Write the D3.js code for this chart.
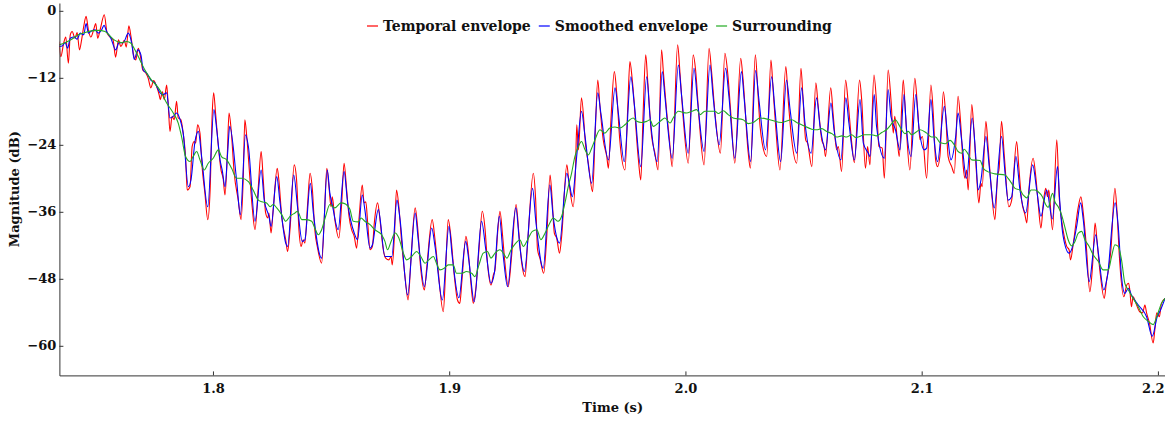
<!DOCTYPE html>
<html>
<head>
<meta charset="utf-8">
<script src="https://cdn.jsdelivr.net/npm/d3@7"></script>
<style>
  html, body { margin: 0; padding: 0; background: #fff; }
  svg { display: block; }
  text { font-family: "DejaVu Serif", serif; font-weight: bold; fill: #111; }
</style>
</head>
<body>
<svg id="chart" width="1165" height="421"></svg>
<script>
// Envelope traces, [time (s), magnitude (dB)]
const temporalEnvelope = [
[1.7348,-5.5],[1.7356,-8.2],[1.7368,-5.8],[1.7377,-4.7],[1.7388,-9.4],[1.7396,-4.3],[1.7404,-3.7],[1.7416,-4.9],[1.7425,-3.9],[1.7435,-7.0],[1.7444,-5.2],[1.7453,-2.8],[1.7463,-1.0],[1.7473,-3.5],[1.7483,-4.7],[1.7495,-3.4],[1.7504,-2.3],[1.7512,-4.9],[1.7523,-3.3],[1.7540,-0.7],[1.7552,-4.0],[1.7565,-4.7],[1.7577,-5.2],[1.7588,-8.3],[1.7600,-5.2],[1.7610,-6.4],[1.7625,-5.3],[1.7633,-6.5],[1.7644,-2.7],[1.7653,-4.6],[1.7664,-7.9],[1.7673,-8.8],[1.7684,-6.7],[1.7692,-7.9],[1.7703,-10.6],[1.7715,-11.1],[1.7726,-12.1],[1.7737,-13.8],[1.7749,-12.5],[1.7760,-13.4],[1.7772,-15.0],[1.7777,-15.9],[1.7786,-14.5],[1.7794,-15.9],[1.7804,-13.3],[1.7811,-17.1],[1.7818,-21.6],[1.7827,-18.9],[1.7836,-19.5],[1.7846,-16.2],[1.7853,-19.2],[1.7864,-19.5],[1.7874,-21.9],[1.7884,-26.1],[1.7891,-32.1],[1.7903,-31.5],[1.7912,-24.3],[1.7921,-23.4],[1.7927,-23.7],[1.7935,-20.4],[1.7945,-21.9],[1.7954,-27.9],[1.7966,-32.7],[1.7978,-37.4],[1.7988,-32.1],[1.7997,-18.3],[1.8003,-14.7],[1.8011,-18.3],[1.8023,-24.3],[1.8034,-28.5],[1.8043,-30.0],[1.8051,-33.0],[1.8061,-25.5],[1.8068,-18.3],[1.8077,-21.3],[1.8090,-29.1],[1.8107,-33.9],[1.8119,-37.4],[1.8128,-30.3],[1.8135,-19.5],[1.8143,-22.5],[1.8157,-30.3],[1.8166,-35.1],[1.8178,-39.2],[1.8192,-31.5],[1.8204,-25.2],[1.8213,-30.3],[1.8223,-36.2],[1.8232,-37.1],[1.8237,-36.2],[1.8246,-39.8],[1.8255,-35.6],[1.8272,-28.2],[1.8279,-30.3],[1.8291,-36.8],[1.8308,-41.0],[1.8316,-43.1],[1.8326,-39.2],[1.8344,-27.6],[1.8354,-30.3],[1.8364,-39.2],[1.8373,-42.2],[1.8382,-41.0],[1.8389,-41.6],[1.8401,-34.4],[1.8411,-29.1],[1.8421,-32.1],[1.8431,-39.2],[1.8443,-42.5],[1.8460,-45.2],[1.8471,-37.4],[1.8482,-28.2],[1.8491,-31.5],[1.8500,-35.1],[1.8505,-33.3],[1.8516,-37.4],[1.8533,-40.7],[1.8545,-34.4],[1.8555,-27.3],[1.8566,-32.1],[1.8576,-36.8],[1.8587,-39.2],[1.8598,-40.4],[1.8608,-42.5],[1.8618,-37.4],[1.8632,-31.2],[1.8640,-34.4],[1.8647,-34.2],[1.8655,-38.0],[1.8665,-42.8],[1.8675,-42.2],[1.8683,-38.0],[1.8697,-34.4],[1.8707,-37.4],[1.8721,-42.8],[1.8731,-44.3],[1.8745,-44.6],[1.8754,-44.0],[1.8759,-45.5],[1.8768,-40.4],[1.8777,-32.1],[1.8787,-35.1],[1.8799,-41.6],[1.8813,-47.6],[1.8826,-51.8],[1.8838,-44.6],[1.8856,-35.3],[1.8866,-38.6],[1.8880,-46.4],[1.8895,-50.0],[1.8904,-46.4],[1.8928,-37.4],[1.8940,-41.0],[1.8953,-46.4],[1.8975,-53.9],[1.8985,-46.4],[1.8996,-37.4],[1.9007,-40.4],[1.9022,-47.6],[1.9035,-51.8],[1.9045,-52.4],[1.9053,-48.8],[1.9071,-40.4],[1.9080,-42.8],[1.9092,-48.8],[1.9102,-52.4],[1.9112,-50.0],[1.9126,-42.8],[1.9140,-35.9],[1.9152,-39.2],[1.9162,-45.2],[1.9177,-49.1],[1.9187,-47.3],[1.9194,-46.4],[1.9205,-39.8],[1.9215,-35.9],[1.9225,-39.8],[1.9236,-45.2],[1.9250,-49.4],[1.9264,-44.0],[1.9283,-34.7],[1.9295,-39.8],[1.9307,-45.2],[1.9321,-47.6],[1.9332,-41.6],[1.9356,-29.1],[1.9366,-33.9],[1.9374,-42.8],[1.9384,-44.3],[1.9400,-47.0],[1.9413,-40.4],[1.9427,-29.4],[1.9436,-33.9],[1.9445,-39.8],[1.9455,-40.7],[1.9467,-43.4],[1.9476,-40.4],[1.9498,-27.6],[1.9506,-30.3],[1.9525,-35.1],[1.9535,-27.9],[1.9540,-20.4],[1.9547,-24.9],[1.9560,-15.6],[1.9578,-24.3],[1.9589,-27.3],[1.9607,-32.4],[1.9617,-23.1],[1.9629,-12.4],[1.9638,-17.1],[1.9652,-23.1],[1.9667,-26.1],[1.9674,-28.2],[1.9684,-20.1],[1.9699,-10.9],[1.9709,-14.7],[1.9722,-23.1],[1.9744,-28.5],[1.9756,-17.1],[1.9765,-9.1],[1.9775,-12.4],[1.9801,-26.7],[1.9811,-30.3],[1.9821,-18.3],[1.9832,-7.9],[1.9840,-12.4],[1.9857,-22.5],[1.9871,-25.5],[1.9884,-28.5],[1.9899,-7.0],[1.9906,-10.6],[1.9921,-18.3],[1.9931,-22.5],[1.9944,-27.9],[1.9967,-6.1],[1.9977,-11.2],[1.9990,-18.9],[2.0012,-27.3],[2.0033,-7.9],[2.0043,-10.6],[2.0057,-18.9],[2.0079,-27.6],[2.0100,-6.7],[2.0110,-10.6],[2.0125,-18.3],[2.0148,-25.5],[2.0167,-7.6],[2.0179,-11.2],[2.0193,-18.9],[2.0209,-27.3],[2.0234,-8.5],[2.0243,-11.8],[2.0266,-25.5],[2.0275,-28.2],[2.0296,-7.9],[2.0306,-14.1],[2.0316,-20.7],[2.0325,-23.7],[2.0344,-26.1],[2.0362,-8.8],[2.0371,-14.1],[2.0382,-20.7],[2.0400,-28.5],[2.0425,-10.0],[2.0435,-15.9],[2.0450,-23.1],[2.0471,-27.3],[2.0489,-10.3],[2.0498,-15.9],[2.0509,-23.1],[2.0517,-23.7],[2.0535,-27.9],[2.0552,-12.9],[2.0562,-17.1],[2.0577,-23.1],[2.0587,-24.3],[2.0593,-26.1],[2.0615,-13.8],[2.0626,-18.9],[2.0640,-24.9],[2.0647,-24.3],[2.0661,-28.8],[2.0678,-12.4],[2.0689,-16.5],[2.0704,-23.7],[2.0715,-27.2],[2.0737,-12.4],[2.0746,-15.9],[2.0762,-28.2],[2.0771,-24.3],[2.0781,-27.6],[2.0798,-11.5],[2.0809,-16.5],[2.0819,-24.3],[2.0833,-24.6],[2.0842,-30.0],[2.0858,-10.6],[2.0870,-15.9],[2.0880,-21.9],[2.0886,-18.9],[2.0898,-23.7],[2.0905,-26.1],[2.0922,-12.4],[2.0932,-18.9],[2.0950,-28.5],[2.0971,-12.1],[2.0983,-17.7],[2.0993,-23.1],[2.1003,-22.5],[2.1021,-30.0],[2.1039,-13.3],[2.1049,-18.3],[2.1059,-26.7],[2.1067,-27.9],[2.1077,-26.1],[2.1092,-14.5],[2.1102,-18.9],[2.1112,-26.1],[2.1127,-27.9],[2.1138,-29.1],[2.1154,-15.3],[2.1165,-20.1],[2.1176,-27.9],[2.1183,-30.0],[2.1190,-28.5],[2.1197,-32.1],[2.1212,-16.8],[2.1221,-21.3],[2.1232,-29.1],[2.1242,-34.4],[2.1251,-30.9],[2.1256,-31.5],[2.1272,-19.8],[2.1281,-24.3],[2.1293,-30.9],[2.1310,-37.4],[2.1321,-29.7],[2.1328,-28.2],[2.1338,-19.8],[2.1350,-26.1],[2.1369,-35.1],[2.1381,-33.9],[2.1402,-23.4],[2.1411,-27.9],[2.1423,-33.9],[2.1437,-36.5],[2.1445,-38.0],[2.1454,-32.1],[2.1472,-26.4],[2.1483,-29.7],[2.1493,-34.4],[2.1505,-38.9],[2.1515,-34.4],[2.1525,-31.8],[2.1533,-33.3],[2.1538,-32.1],[2.1554,-39.2],[2.1572,-23.1],[2.1582,-33.3],[2.1592,-37.4],[2.1602,-40.1],[2.1614,-42.2],[2.1624,-42.8],[2.1630,-44.6],[2.1642,-41.6],[2.1663,-35.1],[2.1674,-33.3],[2.1684,-36.2],[2.1696,-41.6],[2.1712,-50.3],[2.1724,-45.2],[2.1734,-38.0],[2.1743,-41.6],[2.1754,-46.4],[2.1773,-51.5],[2.1783,-48.2],[2.1793,-45.8],[2.1801,-42.8],[2.1818,-31.8],[2.1828,-36.8],[2.1836,-43.4],[2.1856,-51.2],[2.1868,-49.1],[2.1876,-48.8],[2.1881,-50.0],[2.1888,-53.0],[2.1895,-51.2],[2.1907,-52.4],[2.1923,-53.9],[2.1935,-54.1],[2.1945,-52.7],[2.1952,-54.1],[2.1964,-55.9],[2.1980,-59.5],[2.1987,-57.1],[2.1995,-54.1],[2.2006,-54.8],[2.2015,-52.4],[2.2030,-51.5]
];

const smoothedEnvelope = [
[1.7348,-6.4],[1.7362,-6.3],[1.7374,-5.7],[1.7385,-6.7],[1.7396,-4.9],[1.7413,-4.7],[1.7425,-5.1],[1.7438,-4.0],[1.7453,-4.3],[1.7463,-2.3],[1.7473,-4.0],[1.7486,-3.6],[1.7501,-3.4],[1.7515,-4.0],[1.7529,-3.4],[1.7539,-2.6],[1.7550,-3.7],[1.7568,-4.9],[1.7588,-7.0],[1.7603,-5.7],[1.7620,-5.7],[1.7642,-4.0],[1.7656,-5.8],[1.7667,-8.7],[1.7682,-7.0],[1.7695,-7.9],[1.7705,-10.6],[1.7720,-11.2],[1.7737,-12.4],[1.7754,-12.9],[1.7776,-14.7],[1.7789,-15.0],[1.7804,-14.7],[1.7818,-19.2],[1.7832,-18.9],[1.7846,-18.3],[1.7861,-19.5],[1.7874,-21.9],[1.7896,-31.5],[1.7907,-30.3],[1.7924,-23.4],[1.7938,-21.6],[1.7952,-26.1],[1.7978,-35.1],[1.8004,-17.7],[1.8016,-21.3],[1.8030,-26.7],[1.8039,-28.5],[1.8051,-31.5],[1.8062,-25.5],[1.8071,-20.7],[1.8100,-30.3],[1.8116,-36.5],[1.8138,-22.2],[1.8150,-24.3],[1.8178,-37.7],[1.8204,-28.5],[1.8217,-33.9],[1.8237,-36.8],[1.8246,-38.6],[1.8270,-29.7],[1.8284,-34.4],[1.8308,-41.6],[1.8316,-42.2],[1.8342,-29.4],[1.8358,-35.1],[1.8378,-41.3],[1.8389,-41.0],[1.8412,-30.9],[1.8425,-36.2],[1.8460,-44.3],[1.8484,-28.5],[1.8495,-32.7],[1.8505,-34.7],[1.8530,-39.2],[1.8555,-28.8],[1.8570,-34.4],[1.8598,-39.8],[1.8612,-41.0],[1.8632,-33.0],[1.8643,-35.6],[1.8665,-42.5],[1.8675,-41.9],[1.8700,-35.6],[1.8728,-44.0],[1.8757,-44.0],[1.8779,-33.9],[1.8792,-37.4],[1.8824,-50.9],[1.8856,-36.2],[1.8869,-41.0],[1.8895,-49.4],[1.8926,-38.9],[1.8940,-42.2],[1.8971,-51.8],[1.8999,-38.6],[1.9013,-44.0],[1.9041,-51.4],[1.9070,-41.3],[1.9083,-44.6],[1.9106,-52.1],[1.9137,-37.7],[1.9155,-42.8],[1.9177,-48.8],[1.9191,-47.0],[1.9212,-36.8],[1.9229,-44.0],[1.9247,-49.4],[1.9282,-35.3],[1.9299,-42.2],[1.9318,-46.7],[1.9353,-31.8],[1.9366,-37.4],[1.9398,-46.1],[1.9426,-31.2],[1.9440,-36.8],[1.9456,-40.7],[1.9467,-41.6],[1.9498,-29.1],[1.9511,-31.5],[1.9521,-33.3],[1.9541,-25.5],[1.9560,-18.0],[1.9575,-22.5],[1.9603,-30.9],[1.9629,-14.7],[1.9642,-18.3],[1.9674,-26.7],[1.9702,-13.8],[1.9716,-18.3],[1.9741,-27.0],[1.9769,-11.8],[1.9783,-16.5],[1.9811,-27.9],[1.9836,-11.8],[1.9850,-18.9],[1.9880,-27.0],[1.9902,-10.9],[1.9913,-15.3],[1.9944,-26.4],[1.9970,-9.7],[1.9984,-15.3],[2.0012,-25.5],[2.0036,-10.3],[2.0052,-16.5],[2.0079,-25.2],[2.0104,-9.7],[2.0117,-15.3],[2.0143,-24.0],[2.0170,-10.3],[2.0184,-15.3],[2.0209,-26.4],[2.0237,-10.9],[2.0249,-15.9],[2.0276,-27.0],[2.0297,-10.7],[2.0311,-15.9],[2.0339,-24.9],[2.0365,-11.8],[2.0379,-17.7],[2.0403,-27.0],[2.0428,-12.4],[2.0443,-17.7],[2.0471,-25.5],[2.0492,-13.8],[2.0506,-20.1],[2.0532,-25.5],[2.0555,-15.6],[2.0570,-20.7],[2.0593,-24.9],[2.0616,-16.5],[2.0629,-21.3],[2.0658,-26.7],[2.0679,-15.6],[2.0692,-20.1],[2.0715,-26.7],[2.0739,-15.9],[2.0753,-23.7],[2.0774,-25.5],[2.0781,-26.1],[2.0799,-15.0],[2.0809,-20.7],[2.0842,-26.4],[2.0858,-14.1],[2.0870,-18.9],[2.0889,-21.3],[2.0908,-24.9],[2.0925,-15.0],[2.0936,-21.3],[2.0955,-26.1],[2.0975,-15.0],[2.0988,-20.7],[2.1011,-24.9],[2.1021,-24.6],[2.1039,-15.9],[2.1054,-23.7],[2.1067,-27.0],[2.1096,-17.1],[2.1110,-22.5],[2.1124,-26.7],[2.1144,-22.5],[2.1154,-18.3],[2.1169,-23.1],[2.1190,-30.0],[2.1214,-19.2],[2.1229,-26.1],[2.1239,-32.1],[2.1251,-30.3],[2.1272,-22.5],[2.1286,-27.9],[2.1307,-35.3],[2.1338,-22.5],[2.1353,-29.1],[2.1366,-33.9],[2.1381,-33.3],[2.1399,-26.1],[2.1416,-32.1],[2.1440,-36.2],[2.1470,-27.6],[2.1487,-32.1],[2.1505,-36.8],[2.1529,-32.1],[2.1553,-37.3],[2.1575,-27.9],[2.1585,-34.4],[2.1599,-40.4],[2.1624,-43.4],[2.1639,-42.2],[2.1656,-38.6],[2.1673,-34.4],[2.1684,-37.4],[2.1709,-48.5],[2.1737,-40.1],[2.1748,-43.4],[2.1771,-50.0],[2.1786,-47.6],[2.1819,-34.4],[2.1832,-38.6],[2.1846,-47.6],[2.1860,-50.6],[2.1875,-49.7],[2.1888,-50.9],[2.1917,-52.7],[2.1952,-54.8],[2.1976,-58.3],[2.1997,-54.8],[2.2011,-53.6],[2.2030,-51.5]
];

const surrounding = [
[1.7348,-6.1],[1.7374,-5.7],[1.7402,-5.1],[1.7430,-4.3],[1.7458,-3.9],[1.7486,-3.6],[1.7515,-3.5],[1.7543,-3.7],[1.7564,-4.5],[1.7585,-5.3],[1.7613,-5.7],[1.7635,-5.5],[1.7653,-5.8],[1.7670,-7.0],[1.7691,-8.8],[1.7712,-10.6],[1.7740,-12.4],[1.7769,-13.8],[1.7782,-14.7],[1.7804,-16.5],[1.7832,-18.3],[1.7853,-20.1],[1.7867,-22.5],[1.7884,-26.1],[1.7903,-27.0],[1.7916,-26.1],[1.7931,-25.2],[1.7945,-26.7],[1.7963,-28.5],[1.7980,-27.3],[1.8001,-26.4],[1.8023,-24.9],[1.8036,-26.1],[1.8058,-26.7],[1.8079,-28.2],[1.8100,-30.0],[1.8122,-30.0],[1.8150,-30.6],[1.8170,-32.1],[1.8192,-33.9],[1.8207,-34.2],[1.8227,-34.4],[1.8242,-35.1],[1.8255,-34.7],[1.8270,-35.3],[1.8291,-36.5],[1.8308,-37.7],[1.8326,-36.8],[1.8347,-36.2],[1.8358,-35.9],[1.8376,-37.4],[1.8396,-37.4],[1.8418,-37.7],[1.8431,-38.9],[1.8446,-40.1],[1.8460,-39.2],[1.8477,-36.8],[1.8495,-34.7],[1.8516,-35.3],[1.8542,-34.4],[1.8561,-34.6],[1.8580,-35.6],[1.8594,-37.7],[1.8615,-37.8],[1.8627,-37.1],[1.8643,-37.7],[1.8665,-38.3],[1.8685,-39.2],[1.8714,-40.1],[1.8728,-41.3],[1.8739,-42.8],[1.8754,-41.3],[1.8771,-39.8],[1.8787,-40.7],[1.8806,-43.4],[1.8820,-44.6],[1.8841,-44.0],[1.8862,-43.1],[1.8880,-44.0],[1.8898,-45.2],[1.8914,-44.6],[1.8933,-44.0],[1.8946,-45.2],[1.8961,-46.4],[1.8979,-46.1],[1.8996,-45.5],[1.9017,-45.5],[1.9031,-47.0],[1.9053,-47.0],[1.9073,-46.7],[1.9095,-47.0],[1.9109,-47.6],[1.9126,-45.5],[1.9144,-43.4],[1.9162,-43.1],[1.9177,-44.3],[1.9194,-43.4],[1.9215,-42.8],[1.9229,-43.4],[1.9244,-44.3],[1.9262,-42.8],[1.9282,-41.6],[1.9299,-41.0],[1.9314,-42.2],[1.9332,-41.0],[1.9352,-39.5],[1.9371,-39.2],[1.9388,-41.0],[1.9406,-39.8],[1.9426,-38.0],[1.9440,-37.1],[1.9461,-37.7],[1.9476,-36.8],[1.9490,-34.4],[1.9504,-31.5],[1.9518,-29.1],[1.9532,-26.1],[1.9547,-24.3],[1.9560,-23.4],[1.9575,-24.9],[1.9589,-25.8],[1.9603,-24.6],[1.9617,-23.1],[1.9638,-21.3],[1.9659,-21.9],[1.9680,-21.0],[1.9702,-20.8],[1.9722,-21.0],[1.9744,-20.4],[1.9765,-19.5],[1.9779,-19.2],[1.9794,-19.8],[1.9814,-20.0],[1.9836,-19.8],[1.9850,-19.5],[1.9864,-20.7],[1.9893,-19.8],[1.9913,-19.2],[1.9935,-20.1],[1.9948,-19.2],[1.9970,-18.0],[2.0005,-18.3],[2.0026,-18.0],[2.0048,-17.7],[2.0062,-18.6],[2.0082,-18.0],[2.0125,-18.0],[2.0139,-18.4],[2.0160,-17.9],[2.0181,-18.6],[2.0202,-19.2],[2.0244,-19.5],[2.0266,-20.2],[2.0287,-20.0],[2.0316,-19.2],[2.0357,-19.5],[2.0408,-20.0],[2.0450,-19.5],[2.0471,-20.0],[2.0492,-20.4],[2.0535,-21.2],[2.0555,-21.3],[2.0577,-21.1],[2.0598,-21.6],[2.0620,-22.0],[2.0640,-22.6],[2.0662,-22.4],[2.0682,-22.6],[2.0704,-22.2],[2.0721,-22.7],[2.0759,-22.2],[2.0788,-22.2],[2.0809,-22.4],[2.0831,-21.8],[2.0851,-21.3],[2.0866,-20.6],[2.0880,-19.8],[2.0889,-19.5],[2.0901,-20.2],[2.0915,-21.3],[2.0929,-22.0],[2.0943,-21.6],[2.0958,-22.2],[2.0971,-21.9],[2.0993,-21.3],[2.1021,-21.9],[2.1042,-22.6],[2.1059,-22.6],[2.1077,-23.6],[2.1099,-23.8],[2.1120,-23.2],[2.1141,-24.2],[2.1154,-25.2],[2.1169,-25.5],[2.1180,-24.8],[2.1194,-25.5],[2.1212,-26.7],[2.1247,-26.8],[2.1261,-28.2],[2.1279,-28.8],[2.1310,-29.2],[2.1353,-29.4],[2.1366,-30.0],[2.1381,-30.9],[2.1395,-31.8],[2.1416,-32.1],[2.1430,-33.0],[2.1445,-33.5],[2.1463,-32.1],[2.1480,-32.1],[2.1493,-32.4],[2.1511,-33.3],[2.1525,-34.7],[2.1535,-35.2],[2.1554,-32.7],[2.1564,-34.2],[2.1578,-35.1],[2.1592,-36.5],[2.1607,-38.9],[2.1620,-41.0],[2.1635,-42.1],[2.1649,-41.3],[2.1663,-39.8],[2.1677,-39.5],[2.1691,-41.0],[2.1709,-42.2],[2.1726,-43.7],[2.1748,-44.9],[2.1768,-46.4],[2.1790,-46.4],[2.1804,-44.0],[2.1818,-41.9],[2.1832,-42.2],[2.1846,-44.6],[2.1860,-48.8],[2.1875,-50.0],[2.1895,-51.5],[2.1917,-53.0],[2.1938,-54.8],[2.1959,-55.6],[2.1980,-56.2],[2.1995,-54.8],[2.2015,-52.4],[2.2030,-51.5]
];

const seriesNames = ["Temporal envelope", "Smoothed envelope", "Surrounding"];
const yTickValues = [0, -12, -24, -36, -48, -60];
const xTickValues = [1.8, 1.9, 2.0, 2.1, 2.2];
const timeRange = [1.7350, 2.2030];
const dbRange = [-65.3, 1.4];

// Drawing
const colors = { "Temporal envelope": "#ff0000", "Smoothed envelope": "#0000ff", "Surrounding": "#22aa22" };
const seriesData = {
  "Temporal envelope": temporalEnvelope,
  "Smoothed envelope": smoothedEnvelope,
  "Surrounding": surrounding
};

const W = 1165;
const svg = d3.select("#chart");
const plot = { left: 59.4, right: W, top: 3, bottom: 375.4 };

const x = d3.scaleLinear().domain(timeRange).range([plot.left, plot.right]);
const y = d3.scaleLinear().domain(dbRange).range([plot.bottom, plot.top]);

svg.append("defs").append("clipPath").attr("id", "plot-clip")
  .append("rect")
  .attr("x", plot.left).attr("y", plot.top)
  .attr("width", plot.right - plot.left).attr("height", plot.bottom - plot.top);

const line = d3.line()
  .x(d => x(d[0]))
  .y(d => y(d[1]))
  .curve(d3.curveMonotoneX);

const traces = svg.append("g").attr("clip-path", "url(#plot-clip)");
seriesNames.forEach(name => {
  traces.append("path")
    .datum(seriesData[name])
    .attr("fill", "none")
    .attr("stroke", colors[name])
    .attr("stroke-width", 1.1)
    .attr("stroke-linejoin", "round")
    .attr("d", line);
});

// Axes
const yAxis = d3.axisLeft(y)
  .tickValues(yTickValues)
  .tickFormat(d3.format("d"))
  .tickSizeInner(-4)
  .tickSizeOuter(0)
  .tickPadding(3);

const xAxis = d3.axisBottom(x)
  .tickValues(xTickValues)
  .tickFormat(d3.format(".1f"))
  .tickSizeInner(-4)
  .tickSizeOuter(0)
  .tickPadding(8);

const gy = svg.append("g").attr("transform", `translate(${plot.left},0)`).call(yAxis);
const gx = svg.append("g").attr("transform", `translate(0,${plot.bottom})`).call(xAxis);

[gx, gy].forEach(g => {
  g.select(".domain").attr("stroke", "#333").attr("stroke-width", 1);
  g.selectAll(".tick line").attr("stroke", "#333");
  g.selectAll(".tick text")
    .attr("fill", "#111")
    .style("font-family", "'DejaVu Serif', serif")
    .style("font-weight", "bold")
    .style("font-size", "13px");
});

// Keep the last time label inside the drawing area
gx.selectAll(".tick").each(function(d) {
  const t = d3.select(this).select("text");
  const w = t.node().getComputedTextLength();
  const overflow = x(d) + w / 2 - (W - 1);
  if (overflow > 0) t.attr("x", -overflow);
});

// Axis titles
svg.append("text")
  .attr("x", (plot.left + plot.right) / 2 + 0.5)
  .attr("y", 412)
  .attr("text-anchor", "middle")
  .style("font-size", "13px")
  .text("Time (s)");

svg.append("text")
  .attr("transform", `translate(19,${(plot.top + plot.bottom) / 2}) rotate(-90)`)
  .attr("text-anchor", "middle")
  .style("font-size", "13px")
  .text("Magnitude (dB)");

// Legend
const legend = svg.append("g").attr("transform", "translate(367,26)");
let cursor = 0;
seriesNames.forEach(name => {
  const item = legend.append("g").attr("transform", `translate(${cursor},0)`);
  item.append("line")
    .attr("x1", 0).attr("x2", 11)
    .attr("y1", 0).attr("y2", 0)
    .attr("stroke", colors[name])
    .attr("stroke-width", 1.2);
  const label = item.append("text")
    .attr("x", 16)
    .attr("y", 5)
    .style("font-size", "14px")
    .text(name);
  cursor += 16 + label.node().getComputedTextLength() + 8;
});
</script>
</body>
</html>
